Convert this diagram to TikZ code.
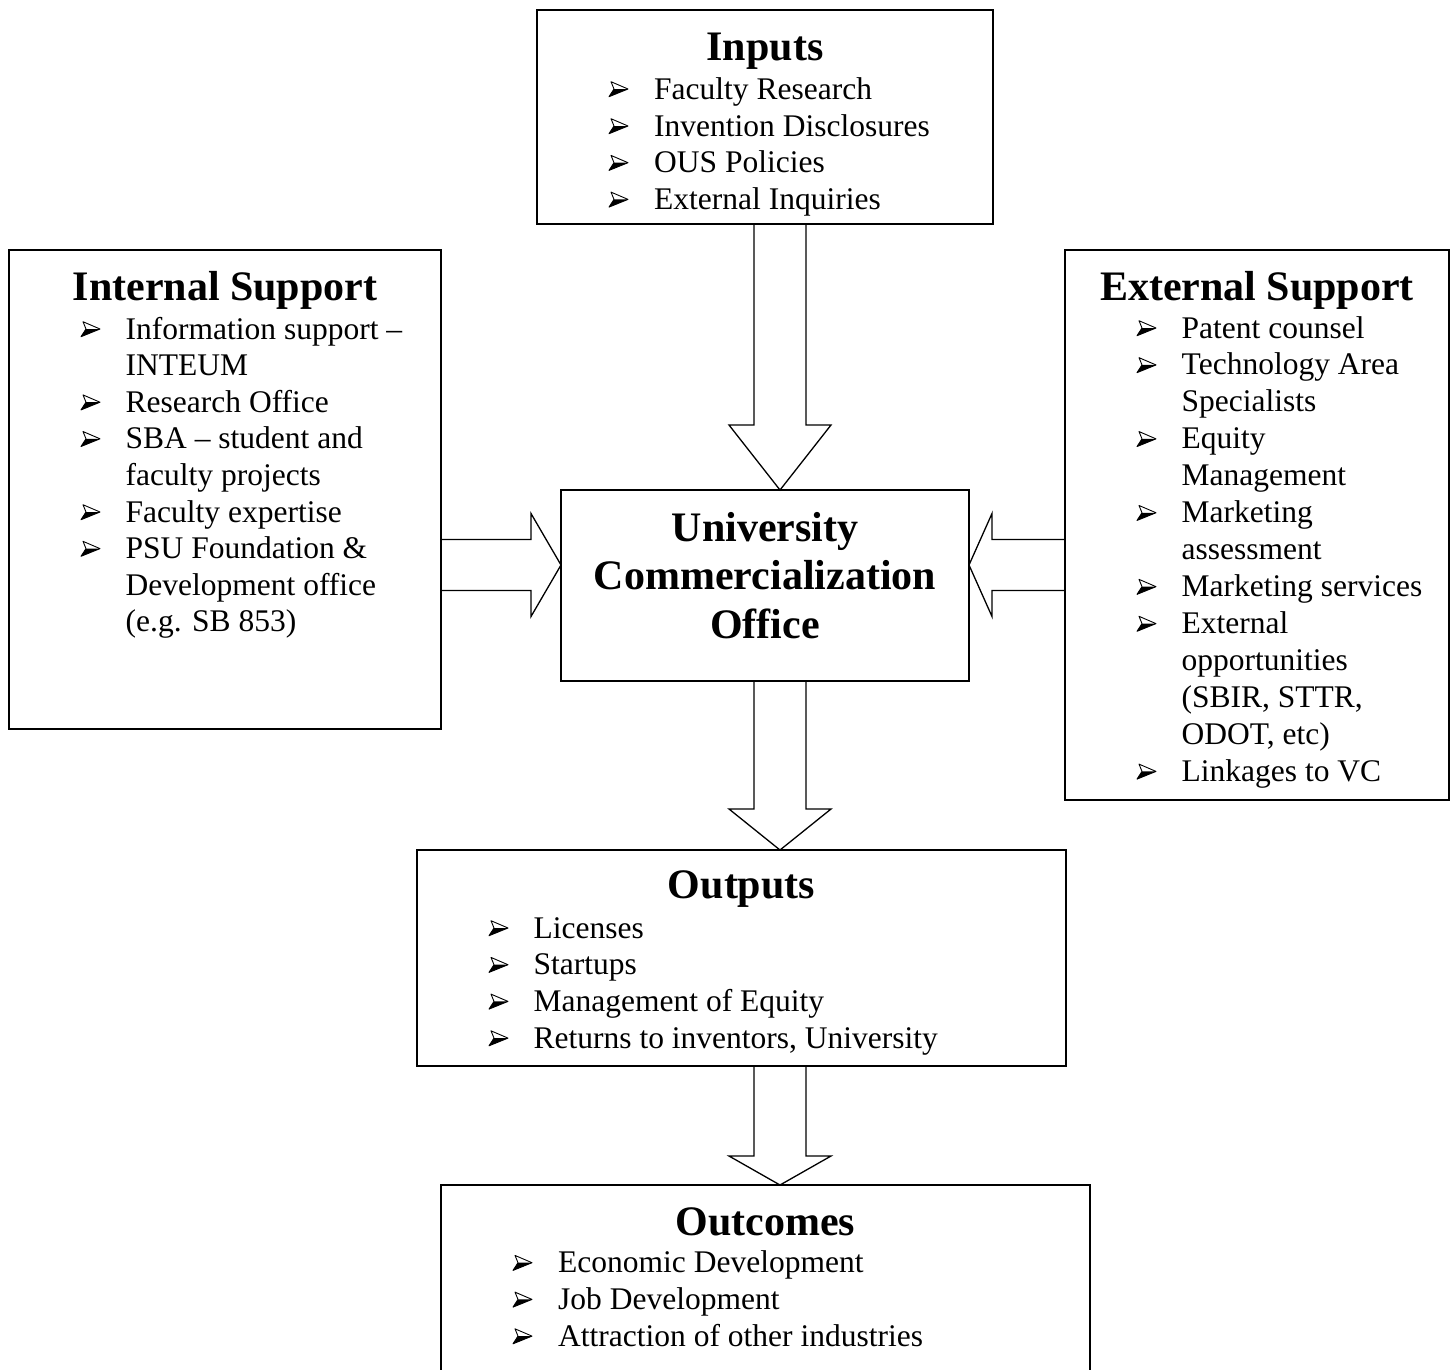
\documentclass[tikz,border=0pt]{standalone}
\usepackage{fontspec}
\setmainfont{Liberation Serif}
\usetikzlibrary{calc}
\tikzset{
  box/.style={draw, line width=2pt, inner sep=0pt, outer sep=0pt},
  ttl/.style={font=\fontsize{42}{48.5}\selectfont\bfseries, inner sep=0pt, anchor=base},
  txt/.style={font=\fontsize{31.5}{36.8}\selectfont, inner sep=0pt, anchor=base west},
  blk/.style={draw, line width=1.3pt, line join=miter},
  bul/.pic={
    \fill[line width=0.6pt, line join=round] (1,-2.3) -- (20,-10) -- (6,-10) -- cycle;
    \draw[line width=0.9pt, line join=round] (6,-10) -- (3,-17.3) -- (20,-10) -- (1,-2.3) -- cycle;
  }
}
\newcommand\mkbox[5]{\node[box, minimum width={#4-#2}, minimum height={#5-#3}] (#1) at ({(#2+#4)/2},{(#3+#5)/2}) {};}
\newcommand\bitem[5]{\pic at (#2,#4) {bul}; \node[txt] (#1) at (#3,#4) {#5};}
\newcommand\citem[4]{\node[txt] (#1) at (#2,#3) {#4};}
\newcommand\blkdown[3]{%
  \draw[blk] ($(#1)+(-26,0)$) -- ($(#2)+(-26,-#3)$) -- ($(#2)+(-51,-#3)$) -- (#2)
    -- ($(#2)+(51,-#3)$) -- ($(#2)+(26,-#3)$) -- ($(#1)+(26,0)$);}
\begin{document}
\begin{tikzpicture}[x=1pt,y=-1pt]
\useasboundingbox (0,0) rectangle (1454,1369);
\clip (0,0) rectangle (1454,1369);
\fill[white] (0,0) rectangle (1454,1369);

% boxes
\mkbox{inputs}{537}{10}{993}{224}
\mkbox{internal}{9}{250}{441}{729}
\mkbox{external}{1065}{250}{1449}{800}
\mkbox{uco}{561}{490}{969}{681}
\mkbox{outputs}{417}{850}{1066}{1066}
\mkbox{outcomes}{441}{1185}{1090}{1430}

% Inputs
\node[ttl] (inT) at (765,60) {Inputs};
\bitem{in1}{608}{654}{99}{Faculty Research}
\bitem{in2}{608}{654}{136}{Invention Disclosures}
\bitem{in3}{608}{654}{172.7}{OUS Policies}
\bitem{in4}{608}{654}{209.4}{External Inquiries}

% Internal Support
\node[ttl] (intT) at (225,300) {Internal Support};
\bitem{int1}{80}{125.5}{339}{Information support --}
\citem{int2}{125.5}{375.6}{INTEUM}
\bitem{int3}{80}{125.5}{412.2}{Research Office}
\bitem{int4}{80}{125.5}{448.8}{SBA -- student and}
\citem{int5}{125.5}{485.4}{faculty projects}
\bitem{int6}{80}{125.5}{522}{Faculty expertise}
\bitem{int7}{80}{125.5}{558.6}{PSU Foundation \&}
\citem{int8}{125.5}{595.2}{Development office}
\citem{int9}{125.5}{631.8}{(e.g. SB 853)}

% External Support
\node[ttl] (extT) at (1257,300) {External Support};
\bitem{ext1}{1136}{1181.5}{338}{Patent counsel}
\bitem{ext2}{1136}{1181.5}{374.95}{Technology Area}
\citem{ext3}{1181.5}{411.9}{Specialists}
\bitem{ext4}{1136}{1181.5}{448.85}{Equity}
\citem{ext5}{1181.5}{485.8}{Management}
\bitem{ext6}{1136}{1181.5}{522.75}{Marketing}
\citem{ext7}{1181.5}{559.7}{assessment}
\bitem{ext8}{1136}{1181.5}{596.65}{Marketing services}
\bitem{ext9}{1136}{1181.5}{633.6}{External}
\citem{ext10}{1181.5}{670.55}{opportunities}
\citem{ext11}{1181.5}{707.5}{(SBIR, STTR,}
\citem{ext12}{1181.5}{744.45}{ODOT, etc)}
\bitem{ext13}{1136}{1181.5}{781.4}{Linkages to VC}

% University Commercialization Office
\node[ttl] (uco1) at (765,541) {University};
\node[ttl] (uco2) at (765,589.5) {Commercialization};
\node[ttl] (uco3) at (765,638) {Office};

% Outputs
\node[ttl] (outT) at (741.5,898) {Outputs};
\bitem{out1}{488}{533.5}{938}{Licenses}
\bitem{out2}{488}{533.5}{974.7}{Startups}
\bitem{out3}{488}{533.5}{1011.4}{Management of Equity}
\bitem{out4}{488}{533.5}{1048.1}{Returns to inventors, University}

% Outcomes
\node[ttl] (ocT) at (765.5,1235) {Outcomes};
\bitem{oc1}{512}{558}{1272.7}{Economic Development}
\bitem{oc2}{512}{558}{1309.4}{Job Development}
\bitem{oc3}{512}{558}{1346.1}{Attraction of other industries}

% block arrows
\coordinate (ax) at (780,0);
\coordinate (ay) at (0,565);
\coordinate (a1s) at (inputs.south -| ax);
\coordinate (a1e) at (uco.north -| ax);
\coordinate (a2s) at (uco.south -| ax);
\coordinate (a2e) at (outputs.north -| ax);
\coordinate (a3s) at (outputs.south -| ax);
\coordinate (a3e) at (outcomes.north -| ax);
\blkdown{a1s}{a1e}{65}
\blkdown{a2s}{a2e}{41}
\blkdown{a3s}{a3e}{29}

\coordinate (lAs) at (internal.east |- ay);
\coordinate (lAe) at (uco.west |- ay);
\draw[blk] ($(lAs)+(0,-25.5)$) -- ($(lAe)+(-30,-25.5)$) -- ($(lAe)+(-30,-51.5)$) -- (lAe)
  -- ($(lAe)+(-30,51.5)$) -- ($(lAe)+(-30,25.5)$) -- ($(lAs)+(0,25.5)$);

\coordinate (rAs) at (external.west |- ay);
\coordinate (rAe) at (uco.east |- ay);
\draw[blk] ($(rAs)+(0,-25.5)$) -- ($(rAe)+(23,-25.5)$) -- ($(rAe)+(23,-51.5)$) -- (rAe)
  -- ($(rAe)+(23,51.5)$) -- ($(rAe)+(23,25.5)$) -- ($(rAs)+(0,25.5)$);
\end{tikzpicture}
\end{document}
